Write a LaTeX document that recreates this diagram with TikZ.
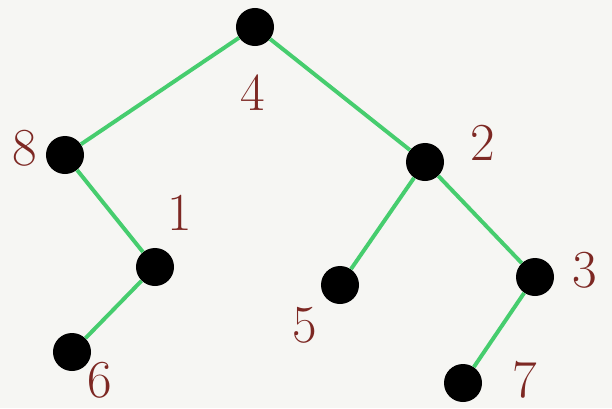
\documentclass[tikz,border=0pt]{standalone}
\usepackage{xcolor}
\usepackage{tikz}
\usetikzlibrary{positioning}
\definecolor{paper}{RGB}{246,246,243}
\definecolor{edgegreen}{RGB}{70,205,110}
\definecolor{inkbrown}{RGB}{125,40,35}

\begin{document}
\begin{tikzpicture}[x=0.025cm, y=-0.025cm,
    dot/.style={circle, fill=black, minimum size=0.95cm, inner sep=0pt},
    num/.style={text=inkbrown, font=\fontsize{38}{40}\selectfont},
    edge/.style={edgegreen, line width=2.8pt}]
        \fill[paper] (0,0) rectangle (612,408);
        \useasboundingbox (0,0) rectangle (612,408);
        % tree nodes
        \node[dot] (n4) at (255,27) {};
        \node[dot] (n8) at (65,155) {};
        \node[dot] (n2) at (425,162) {};
        \node[dot] (n1) at (155,267) {};
        \node[dot] (n5) at (340,285) {};
        \node[dot] (n3) at (535,277) {};
        \node[dot] (n6) at (72,352) {};
        \node[dot] (n7) at (463,383) {};
        % numbers
        \node[num] (l4) at (253,93) {4};
        \node[num] (l8) at (25,148) {8};
        \node[num] (l2) at (483,143) {2};
        \node[num] (l1) at (180,213) {1};
        \node[num] (l5) at (305,325) {5};
        \node[num] (l3) at (585,270) {3};
        \node[num] (l6) at (100,380) {6};
        \node[num] (l7) at (525,380) {7};
        % edges
        \draw[edge] (n4) -- (n8);
        \draw[edge] (n4) -- (n2);
        \draw[edge] (n8) -- (n1);
        \draw[edge] (n1) -- (n6);
        \draw[edge] (n2) -- (n5);
        \draw[edge] (n2) -- (n3);
        \draw[edge] (n3) -- (n7);
      \end{tikzpicture}
\end{document}
